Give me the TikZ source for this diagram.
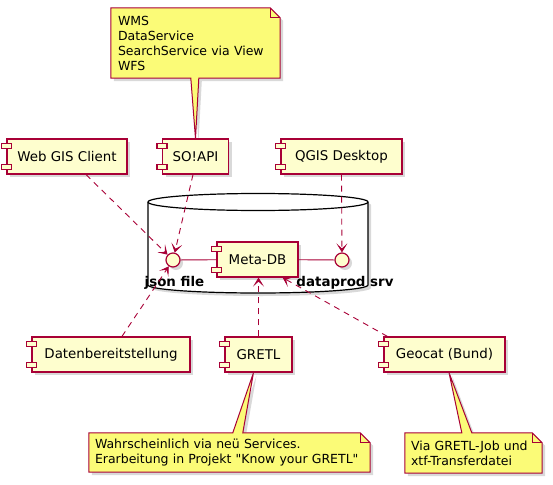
\documentclass[tikz,border=0pt]{standalone}
\usepackage{fontspec}
\setmainfont{DejaVu Sans}
\newfontfamily\plainfont{DejaVu Sans}
\usetikzlibrary{arrows.meta,calc,shadows,backgrounds}
\definecolor{umlred}{HTML}{A80036}
\definecolor{compfill}{HTML}{FEFECE}
\definecolor{notefill}{HTML}{FBFB77}
\tikzset{
  myshadow/.style={drop shadow={shadow xshift=3pt,shadow yshift=-3pt,opacity=0.3}},
  comp/.style={draw=umlred, fill=compfill, line width=1.2pt, minimum height=35, inner sep=0,
    font=\fontsize{13.4}{16}\selectfont, myshadow},
  tabbox/.style={draw=umlred, fill=compfill, line width=1.2pt},
  iface/.style={circle, draw=umlred, fill=compfill, line width=1.2pt, minimum size=14, inner sep=0, myshadow},
  dep/.style={draw=umlred, line width=0.9pt, dash pattern=on 6pt off 5pt,
    -{Stealth[length=9pt,width=11pt,inset=5pt]}},
  link/.style={draw=umlred, line width=0.9pt},
  lbl/.style={font=\fontsize{13.4}{16}\selectfont\bfseries, inner sep=0},
  notetext/.style={align=left, inner ysep=0, font=\plainfont\fontsize{12.5}{15}\selectfont},
  noteshape/.style={draw=umlred, fill=notefill, line width=1pt, myshadow},
  cyl/.style={draw=black, fill=white, line width=1.2pt, myshadow}
}
\newcommand\comptabs[1]{%
  \draw[tabbox] ($(#1.north west)+(-5,5)$) rectangle ($(#1.north west)+(5,10)$);
  \draw[tabbox] ($(#1.south west)+(-5,-10)$) rectangle ($(#1.south west)+(5,-5)$);}
\begin{document}
\begin{tikzpicture}[x=1pt,y=-1pt]
\useasboundingbox (0,0) rectangle (553,484);
% database container
\path[cyl] (148,202) -- (148,285) arc[start angle=180, end angle=360, x radius=110pt, y radius=8pt]
  -- (368,202) arc[start angle=0, end angle=180, x radius=110pt, y radius=8.5pt] -- cycle;
\draw[black, line width=1.2pt] (148,202) arc[start angle=180, end angle=360, x radius=110pt, y radius=8.5pt];
% components
\node[comp, minimum width=120] (web) at (67,156.5) {Web GIS Client};
\node[comp, minimum width=66] (soapi) at (195.5,156.5) {SO!API};
\node[comp, minimum width=121] (qgis) at (341.5,156.5) {QGIS Desktop};
\node[comp, minimum width=81] (metadb) at (257.5,259.5) {Meta-DB};
\node[comp, minimum width=158] (daten) at (111,354.5) {Datenbereitstellung};
\node[comp, minimum width=67] (gretl) at (258.5,354.5) {GRETL};
\node[comp, minimum width=121] (geocat) at (444.5,354.5) {Geocat (Bund)};
\foreach \n in {web,soapi,qgis,metadb,daten,gretl,geocat} {\comptabs{\n}}
% interfaces
\node[iface] (json) at (173,260) {};
\node[iface] (dprod) at (342,260) {};
\node[lbl] (jl) at (174.5,283) {json file};
\node[lbl] (dl) at (345,283) {dataprod srv};
% links
\draw[link] (json) -- (metadb);
\draw[link] (metadb) -- (dprod);
\draw[dep] ($(web.south)+(19,0)$) -- (json);
\draw[dep] ($(soapi.south)+(-2.5,0)$) -- (json);
\draw[dep] (qgis.south) -- (dprod);
\draw[dep] ($(daten.north)+(11,0)$) -- (json);
\draw[dep] (gretl.north) -- (gretl.north |- metadb.south);
\draw[dep] ($(geocat.north west)+(4,0)$) -- ($(metadb.south east)+(-16,0)$);
% notes
\node[notetext, text width=155, inner xsep=7, minimum height=70] (nA) at (195.5,43)
  {WMS\\DataService\\SearchService via View\\WFS};
\node[notetext, text width=269, inner xsep=6, minimum height=39] (nB) at (229.5,452.5)
  {Wahrscheinlich via neü Services.\\Erarbeitung in Projekt "Know your GRETL"};
\node[notetext, text width=125, inner xsep=6, minimum height=40] (nC) at (473.5,453)
  {Via GRETL-Job und\\xtf-Transferdatei};
\begin{scope}[on background layer]
\path[noteshape] (nA.north west) -- ($(nA.north east)+(-10,0)$) -- ($(nA.north east)+(0,10)$)
  -- (nA.south east) -- ($(nA.south west)+(88,0)$) -- (soapi.north) -- ($(nA.south west)+(80,0)$)
  -- (nA.south west) -- cycle;
\draw[umlred, line width=1pt] ($(nA.north east)+(-10,0)$) -- ($(nA.north east)+(-10,10)$) -- ($(nA.north east)+(0,10)$);
\path[noteshape] (nB.north west) -- ($(nB.north west)+(144,0)$) -- ($(gretl.south)+(-5,0)$)
  -- ($(nB.north west)+(154,0)$) -- ($(nB.north east)+(-10,0)$) -- ($(nB.north east)+(0,10)$)
  -- (nB.south east) -- (nB.south west) -- cycle;
\draw[umlred, line width=1pt] ($(nB.north east)+(-10,0)$) -- ($(nB.north east)+(-10,10)$) -- ($(nB.north east)+(0,10)$);
\path[noteshape] (nC.north west) -- ($(nC.north west)+(57,0)$) -- ($(geocat.south)+(4.5,0)$)
  -- ($(nC.north west)+(67,0)$) -- ($(nC.north east)+(-10,0)$) -- ($(nC.north east)+(0,10)$)
  -- (nC.south east) -- (nC.south west) -- cycle;
\draw[umlred, line width=1pt] ($(nC.north east)+(-10,0)$) -- ($(nC.north east)+(-10,10)$) -- ($(nC.north east)+(0,10)$);
\end{scope}
\end{tikzpicture}
\end{document}
